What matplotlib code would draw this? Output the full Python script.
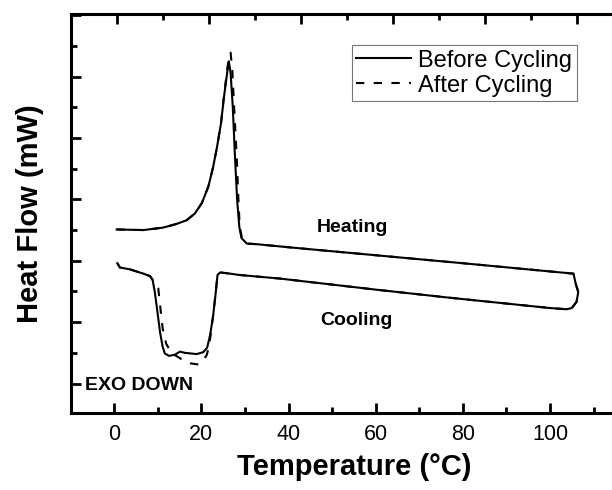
import matplotlib.pyplot as plt
from matplotlib.ticker import MultipleLocator, FixedLocator, NullFormatter

plt.rcParams['font.family'] = ['Liberation Sans', 'DejaVu Sans']

# heating run (T in degC, heat flow in arbitrary units)
heat_T_before = [0.55, 6.7, 11.2, 14.3, 16.6, 18.5, 20.1, 21.6, 22.7, 23.6, 24.5,
                 25.2, 25.8, 26.2, 26.3, 26.7, 27.2, 27.7, 28.2, 28.7, 29.2, 30.4,
                 32.7, 40, 60, 80, 105.4]
heat_y_before = [2.51, 2.50, 2.54, 2.60, 2.66, 2.77, 2.94, 3.21, 3.53, 3.86, 4.24,
                 4.68, 5.00, 5.22, 5.25, 5.06, 4.51, 3.70, 2.99, 2.55, 2.37, 2.28,
                 2.27, 2.22, 2.09, 1.96, 1.79]
heat_T_after = [0.55, 6.7, 11.2, 14.3, 16.6, 18.5, 20.1, 21.6, 22.7, 23.6, 24.5,
                25.2, 25.8, 26.3, 26.7, 27.1, 27.5, 28.1, 28.5, 28.8, 29.3, 30.5,
                32.7, 40, 60, 80, 105.4]
heat_y_after = [2.51, 2.50, 2.54, 2.60, 2.66, 2.77, 2.94, 3.21, 3.53, 3.86, 4.24,
                4.70, 5.05, 5.32, 5.39, 5.10, 4.51, 3.70, 2.99, 2.55, 2.37, 2.28,
                2.27, 2.22, 2.09, 1.96, 1.79]

# turnaround at the top temperature
turn_T = [105.9, 106.5, 106.1, 105.0, 103.8]
turn_y = [1.63, 1.49, 1.33, 1.23, 1.21]

# cooling run
cool_T_before = [100, 76.7, 60, 38, 28.5, 26.6, 24.3, 23.7, 23.3, 22.7, 22.0, 21.3,
                 20.4, 18.9, 16.2, 15.1, 13.9, 12.6, 11.6, 11.1, 10.5, 9.9, 9.3,
                 8.8, 8.2, 6.7, 3.6, 1.3, 0.7]
cool_y_before = [1.23, 1.40, 1.53, 1.71, 1.77, 1.79, 1.81, 1.77, 1.49, 1.11, 0.79, 0.58,
                 0.51, 0.48, 0.50, 0.52, 0.47, 0.45, 0.49, 0.60, 0.84, 1.17, 1.49,
                 1.69, 1.75, 1.79, 1.86, 1.89, 1.96]
cool_T_after = [100, 76.7, 60, 38, 28.5, 26.6, 24.3, 23.7, 23.3, 22.7, 22.4, 21.8,
                21.2, 20.4, 19.3, 17.4, 16.2, 14.7, 13.2, 11.9, 11.1, 10.6, 10.1,
                8.8, 8.2, 6.7, 3.6, 1.3, 0.7]
cool_y_after = [1.23, 1.40, 1.53, 1.71, 1.77, 1.79, 1.81, 1.77, 1.49, 1.11, 0.95, 0.62,
                0.46, 0.38, 0.31, 0.33, 0.36, 0.43, 0.49, 0.65, 0.90, 1.22, 1.55,
                1.69, 1.75, 1.79, 1.86, 1.89, 1.96]

x_ticks = [0, 20, 40, 60, 80, 100]

fig = plt.figure(figsize=(6.12, 4.9), dpi=100)
ax = fig.add_axes([70.7 / 612, 1 - 413 / 490, 566.4 / 612, 399 / 490])

ax.plot(heat_T_before + turn_T + cool_T_before,
        heat_y_before + turn_y + cool_y_before,
        color='black', lw=1.5, label='Before Cycling')
ax.plot(heat_T_after + turn_T + cool_T_after,
        heat_y_after + turn_y + cool_y_after,
        color='black', lw=1.5, dashes=(4, 4.5), label='After Cycling')

ax.set_xlim(-10, 120)
ax.set_ylim(-0.48, 6.02)

ax.xaxis.set_major_locator(FixedLocator(x_ticks))
ax.xaxis.set_minor_locator(MultipleLocator(10))
ax.yaxis.set_major_locator(MultipleLocator(1))
ax.yaxis.set_minor_locator(MultipleLocator(0.5))
ax.yaxis.set_major_formatter(NullFormatter())
ax.tick_params(which='both', direction='in', width=2, labelsize=15.5)
ax.tick_params(which='major', length=7)
ax.tick_params(which='minor', length=4)
ax.tick_params(axis='x', pad=8)
for s in ax.spines.values():
    s.set_linewidth(2.2)

# top axis has its own tick spacing
top = ax.twiny()
top.set_xlim((-10 - 0.7) / 1.0558, (120 - 0.7) / 1.0558)
top.xaxis.set_major_locator(MultipleLocator(20))
top.xaxis.set_minor_locator(MultipleLocator(10))
top.xaxis.set_major_formatter(NullFormatter())
top.tick_params(which='both', direction='in', width=2)
top.tick_params(which='major', length=7)
top.tick_params(which='minor', length=4)

ax.set_xlabel('Temperature (°C)', fontsize=21, fontweight='bold', labelpad=6)
ax.set_ylabel('Heat Flow (mW)', fontsize=21, fontweight='bold', labelpad=16)

ax.text(54.6, 2.55, 'Heating', fontsize=14, fontweight='bold', ha='center', va='center')
ax.text(55.5, 1.02, 'Cooling', fontsize=14, fontweight='bold', ha='center', va='center')
ax.text(-6.7, -0.03, 'EXO DOWN', fontsize=14, fontweight='bold', ha='left', va='center')

leg = ax.legend(loc='upper left', bbox_to_anchor=(351.7 / 612, 1 - 45 / 490),
                bbox_transform=fig.transFigure, fontsize=17, frameon=True,
                fancybox=False, borderaxespad=0, borderpad=0.2, labelspacing=0.12,
                handlelength=2.3, handletextpad=0.3)
leg.get_frame().set_edgecolor('#555555')
leg.get_frame().set_linewidth(0.8)

fig.savefig('out.png', dpi=100)
